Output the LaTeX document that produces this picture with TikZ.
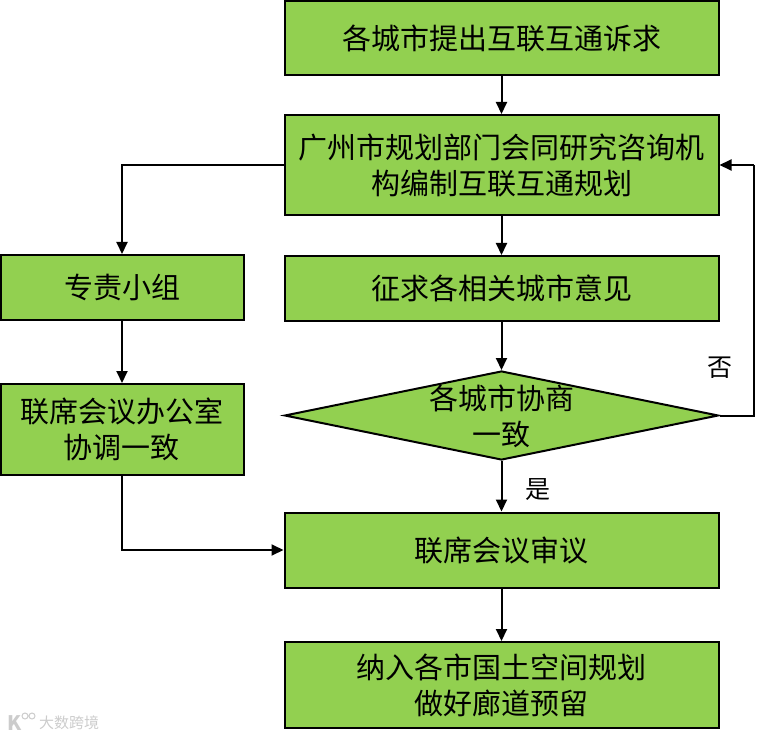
\documentclass[tikz,border=0pt]{standalone}
\usepackage{fontspec}
\usepackage{tikz}
\usetikzlibrary{arrows.meta, shapes.geometric}
\newfontfamily\cjk{Noto Sans CJK SC}
\definecolor{boxgreen}{HTML}{92D050}

\tikzset{
	flowbox/.style={draw=black, line width=2pt, fill=boxgreen, inner sep=0pt, align=center, font=\cjk\fontsize{29}{36}\selectfont},
	flowtext/.style={inner sep=0pt, align=center, font=\cjk\fontsize{29}{36}\selectfont},
	flowarrow/.style={draw=black, line width=2pt, -{Triangle[length=12pt, width=11pt]}},
	flowline/.style={draw=black, line width=2pt},
}

\begin{document}
\begin{tikzpicture}[x=1pt, y=-1pt]
	
	\useasboundingbox (0, 0) rectangle (758, 738);
	
	\node[flowbox, minimum width=434pt, minimum height=74pt] (request) at (501.5, 38) {各城市提出互联互通诉求};
	\node[flowbox, minimum width=434pt, minimum height=100pt] (plan) at (501.5, 165) {广州市规划部门会同研究咨询机\\构编制互联互通规划};
	\node[flowbox, minimum width=434pt, minimum height=65pt] (opinion) at (501.5, 288.5) {征求各相关城市意见};
	\node[flowbox, minimum width=243pt, minimum height=65pt] (team) at (122, 287.5) {专责小组};
	\node[flowbox, minimum width=243pt, minimum height=91pt] (office) at (122, 429.5) {联席会议办公室\\协调一致};
	
	% text of the diamond goes on top, the shape would grow otherwise
	\node[draw=black, line width=2pt, fill=boxgreen, diamond, aspect=4.88, inner sep=0pt, minimum width=434pt, minimum height=89pt] (agree) at (501.5, 415.5) {};
	\node[flowtext] (agreetext) at (501.5, 416) {各城市协商\\一致};
	
	\node[flowbox, minimum width=434pt, minimum height=75pt] (review) at (501.5, 550) {联席会议审议};
	\node[flowbox, minimum width=434pt, minimum height=86pt] (include) at (501.5, 685) {纳入各市国土空间规划\\做好廊道预留};
	
	\coordinate (turnback) at (754, 165);
	
	\draw[flowarrow] (request) -- (plan);
	\draw[flowarrow] (plan) -- (opinion);
	\draw[flowarrow] (opinion) -- (agree);
	\draw[flowarrow] (agree) -- (review);
	\draw[flowarrow] (review) -- (include);
	\draw[flowarrow] (plan.west) -| (team.north);
	\draw[flowarrow] (team) -- (office);
	\draw[flowarrow] (office.south) |- (review.west);
	\draw[flowline] (agree.east) -| (turnback);
	\draw[flowarrow] (turnback) -- (plan.east);
	
	\node[inner sep=0pt, font=\cjk\fontsize{25}{25}\selectfont] (no) at (720, 368) {否};
	\node[inner sep=0pt, font=\cjk\fontsize{25}{25}\selectfont] (yes) at (538, 490) {是};
	
	% watermark
	\node[inner sep=0pt, text=black!20, font=\cjk\fontsize{15}{15}\selectfont] (mark) at (69, 723) {大数跨境};
	\node[inner sep=0pt, text=black!20, font=\cjk\bfseries\fontsize{20}{20}\selectfont] (logo) at (15, 723) {K};
	\draw[black!20, line width=1pt] (25, 716) circle (3) (32, 716) circle (3);
	
\end{tikzpicture}
\end{document}
